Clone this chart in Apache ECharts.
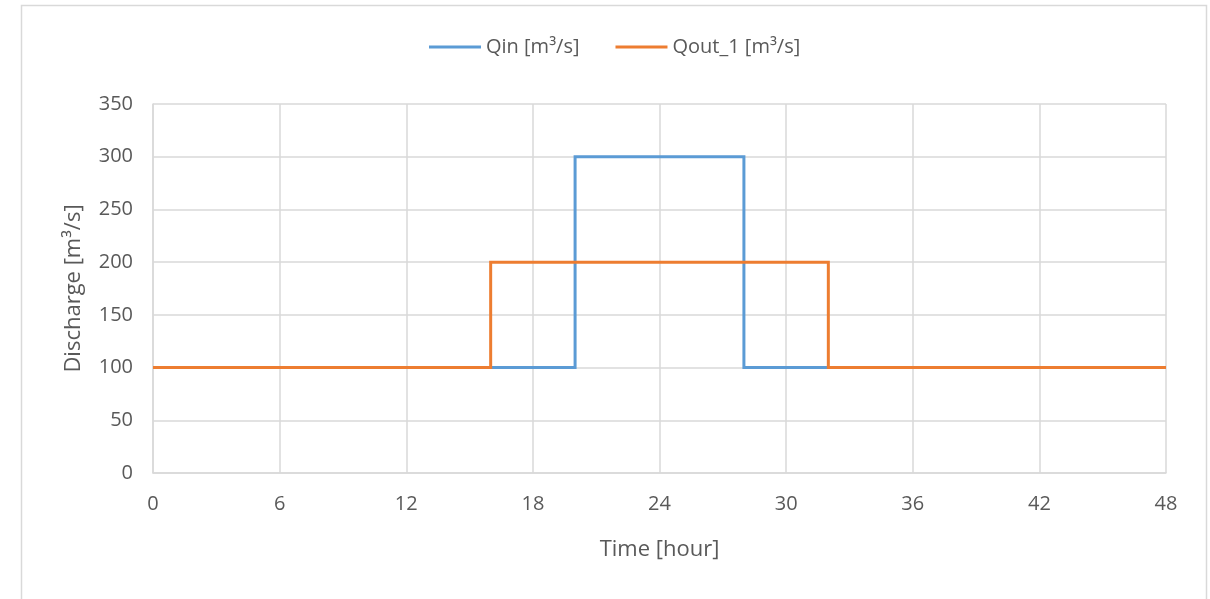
<!DOCTYPE html>
<html>
<head>
<meta charset="utf-8">
<script src="https://cdn.jsdelivr.net/npm/echarts@6/dist/echarts.min.js"></script>
<style>
  html, body { margin: 0; padding: 0; background: #ffffff; }
  #chart { width: 1210px; height: 599px; }
</style>
</head>
<body>
<div id="chart"></div>
<script>
// Time breakpoints [hour] and discharge levels [m3/s]; each value holds until the next breakpoint
const qinTime = [0, 20, 28, 48];
const qinValue = [100, 300, 100, 100];
const qoutTime = [0, 16, 32, 48];
const qoutValue = [100, 200, 100, 100];

const xTicks = [0, 6, 12, 18, 24, 30, 36, 42, 48];
const yTicks = [0, 50, 100, 150, 200, 250, 300, 350];

const seriesNames = ['Qin [m\u00B3/s]', 'Qout_1 [m\u00B3/s]'];

const pairs = (xs, ys) => xs.map((x, i) => [x, ys[i]]);

const font = 'Open Sans, sans-serif';
const textColor = '#595959';
const gridColor = '#d9d9d9';

const chart = echarts.init(document.getElementById('chart'), null, { renderer: 'canvas' });
chart.setOption({
  backgroundColor: '#ffffff',
  animation: false,
  graphic: [{
    type: 'rect',
    shape: { x: 21.5, y: 5.5, width: 1185, height: 620 },
    style: { fill: 'none', stroke: '#d9d9d9', lineWidth: 1.5 },
    silent: true
  }],
  legend: {
    top: 32,
    left: 424,
    itemWidth: 52,
    itemHeight: 3,
    itemGap: 36,
    icon: 'rect',
    textStyle: { color: textColor, fontFamily: font, fontSize: 20 },
    data: seriesNames
  },
  grid: { left: 153, right: 44, top: 104, bottom: 126 },
  xAxis: {
    type: 'value',
    min: xTicks[0],
    max: xTicks[xTicks.length - 1],
    interval: 6,
    name: 'Time [hour]',
    nameLocation: 'middle',
    nameGap: 66,
    nameTextStyle: { color: textColor, fontFamily: font, fontSize: 22 },
    axisLine: { show: true, lineStyle: { color: gridColor, width: 1.5 } },
    axisTick: { show: false },
    axisLabel: { color: textColor, fontFamily: font, fontSize: 20, margin: 21 },
    splitLine: { show: true, lineStyle: { color: gridColor, width: 1.5 } }
  },
  yAxis: {
    type: 'value',
    min: yTicks[0],
    max: yTicks[yTicks.length - 1],
    interval: 50,
    name: 'Discharge [m\u00B3/s]',
    nameLocation: 'middle',
    nameGap: 68,
    nameRotate: 90,
    nameTextStyle: { color: textColor, fontFamily: font, fontSize: 22 },
    axisLine: { show: true, lineStyle: { color: gridColor, width: 1.5 } },
    axisTick: { show: false },
    axisLabel: { color: textColor, fontFamily: font, fontSize: 20, margin: 20 },
    splitLine: { show: true, lineStyle: { color: gridColor, width: 1.5 } }
  },
  series: [
    {
      name: seriesNames[0],
      type: 'line',
      step: 'end',
      data: pairs(qinTime, qinValue),
      showSymbol: false,
      symbol: 'none',
      color: '#5b9bd5',
      lineStyle: { width: 3, color: '#5b9bd5', join: 'miter' },
      z: 2
    },
    {
      name: seriesNames[1],
      type: 'line',
      step: 'end',
      data: pairs(qoutTime, qoutValue),
      showSymbol: false,
      symbol: 'none',
      color: '#ed7d31',
      lineStyle: { width: 3, color: '#ed7d31', join: 'miter' },
      z: 3
    }
  ]
});
</script>
</body>
</html>
